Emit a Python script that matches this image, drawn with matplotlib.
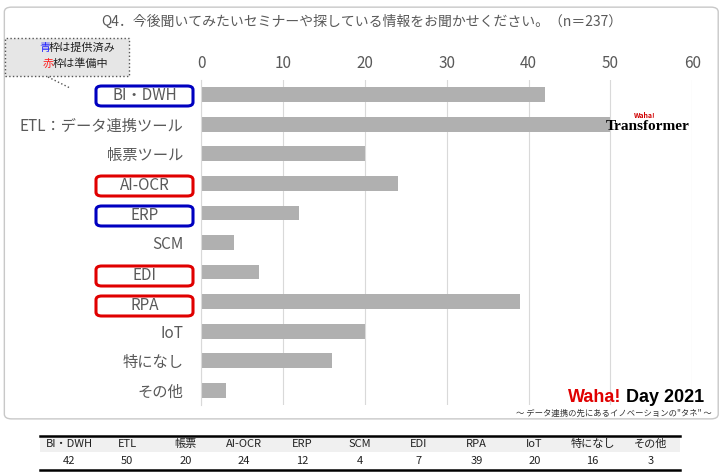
import matplotlib.pyplot as plt
from matplotlib.patches import FancyBboxPatch, Rectangle

plt.rcParams['font.family'] = ['Noto Sans CJK JP']

categories = ['BI・DWH', 'ETL：データ連携ツール', '帳票ツール', 'AI-OCR', 'ERP', 'SCM',
              'EDI', 'RPA', 'IoT', '特になし', 'その他']
values = [42, 50, 20, 24, 12, 4, 7, 39, 20, 16, 3]
frame = ['blue', None, None, 'red', 'blue', None, 'red', 'red', None, None, None]
table_labels = ['BI・DWH', 'ETL', '帳票', 'AI-OCR', 'ERP', 'SCM', 'EDI', 'RPA', 'IoT', '特になし', 'その他']

W, H = 724, 476
fig = plt.figure(figsize=(W / 100, H / 100), dpi=100)

# パネル枠
fig.patches.append(FancyBboxPatch((0.006, 0.12), 0.986, 0.865, boxstyle='round,pad=0,rounding_size=0.01',
                                  transform=fig.transFigure, fill=False, edgecolor='#c8c8c8', lw=1))

ax = fig.add_axes([0.278, 0.149, 0.678, 0.683])
y = list(range(len(categories)))
ax.barh(y, values, height=0.5, color='#b0b0b0')
ax.set_xlim(0, 60)
ax.set_ylim(len(categories) - 0.5, -0.5)
ax.xaxis.tick_top()
ax.set_xticks(range(0, 61, 10))
ax.tick_params(axis='x', length=0, labelsize=11, labelcolor='#595959', pad=6)
ax.tick_params(axis='y', length=0, pad=13)
ax.set_yticks(y)
ax.set_yticklabels([c if f is None else '' for c, f in zip(categories, frame)], fontsize=11, color='#595959')
ax.grid(axis='x', color='#d9d9d9', lw=0.8)
ax.set_axisbelow(True)
for s in ['top', 'right', 'bottom']:
    ax.spines[s].set_visible(False)
ax.spines['left'].set_color('#d9d9d9')

# 枠付きラベル
for i, (c, f) in enumerate(zip(categories, frame)):
    if f:
        yf = 1 - (96 + 30 * i) / H
        fig.patches.append(FancyBboxPatch((96 / W, yf - 10 / H), 97 / W, 20 / H,
                                          boxstyle='round,pad=0,rounding_size=0.008',
                                          transform=fig.transFigure, fc='white',
                                          ec='#0000c0' if f == 'blue' else '#e00000', lw=2.2))
        fig.text(144.5 / W, yf, c, ha='center', va='center', fontsize=11, color='#595959')

fig.text(0.5, 0.955, 'Q4．今後聞いてみたいセミナーや探している情報をお聞かせください。（n＝237）',
         ha='center', va='center', fontsize=10, color='#595959')

# 凡例ボックス
fig.patches.append(Rectangle((5 / W, 1 - 76 / H), 124 / W, 38 / H, transform=fig.transFigure,
                             fc='#e6e6e6', ec='#555555', ls=':', lw=1))
fig.text(39 / W, 1 - 48 / H, '青', color='#2020ff', fontsize=8, ha='left', va='center')
fig.text(49 / W, 1 - 48 / H, '枠は提供済み', color='#222222', fontsize=8, ha='left', va='center')
fig.text(43 / W, 1 - 64 / H, '赤', color='#ff2020', fontsize=8, ha='left', va='center')
fig.text(53 / W, 1 - 64 / H, '枠は準備中', color='#222222', fontsize=8, ha='left', va='center')
fig.lines.append(plt.Line2D([48 / W, 70 / W], [1 - 77 / H, 1 - 88 / H], transform=fig.transFigure,
                            color='#555555', ls=':', lw=1))

# ロゴ
fig.text(0.952, 0.735, 'Transformer', ha='right', va='center', fontsize=11, fontweight='bold',
         family='Liberation Serif', color='black')
fig.text(0.875, 0.757, 'Waha!', ha='left', va='center', fontsize=5, color='#d00000', fontweight='bold')
fig.text(1 - 103 / W, 1 - 398 / H, 'Waha!', ha='right', va='center', fontsize=13, fontweight='bold',
         color='#e00000', family='Liberation Sans')
fig.text(1 - 98 / W, 1 - 398 / H, 'Day 2021', ha='left', va='center', fontsize=13, fontweight='bold',
         color='black', family='Liberation Sans')
fig.text(1 - 12 / W, 1 - 413 / H, '～ データ連携の先にあるイノベーションの"タネ" ～', ha='right', va='center',
         fontsize=6, color='#333333')

# 下の表
tx0, tx1 = 40 / W, 680 / W
n = len(table_labels)
fig.patches.append(Rectangle((tx0, 1 - 452 / H), tx1 - tx0, 16 / H, transform=fig.transFigure,
                             fc='#f0f0f0', ec='none'))
fig.lines.append(plt.Line2D([tx0, tx1], [1 - 436 / H] * 2, transform=fig.transFigure, color='black', lw=1.8))
fig.lines.append(plt.Line2D([tx0, tx1], [1 - 470 / H] * 2, transform=fig.transFigure, color='black', lw=1.8))
w = (tx1 - tx0) / n
for i, (lab, v) in enumerate(zip(table_labels, values)):
    cx = tx0 + w * (i + 0.5)
    fig.text(cx, 1 - 444 / H, lab, ha='center', va='center', fontsize=8, color='#222222')
    fig.text(cx, 1 - 461 / H, str(v), ha='center', va='center', fontsize=8, color='#222222')

fig.savefig('out.png', dpi=100)
